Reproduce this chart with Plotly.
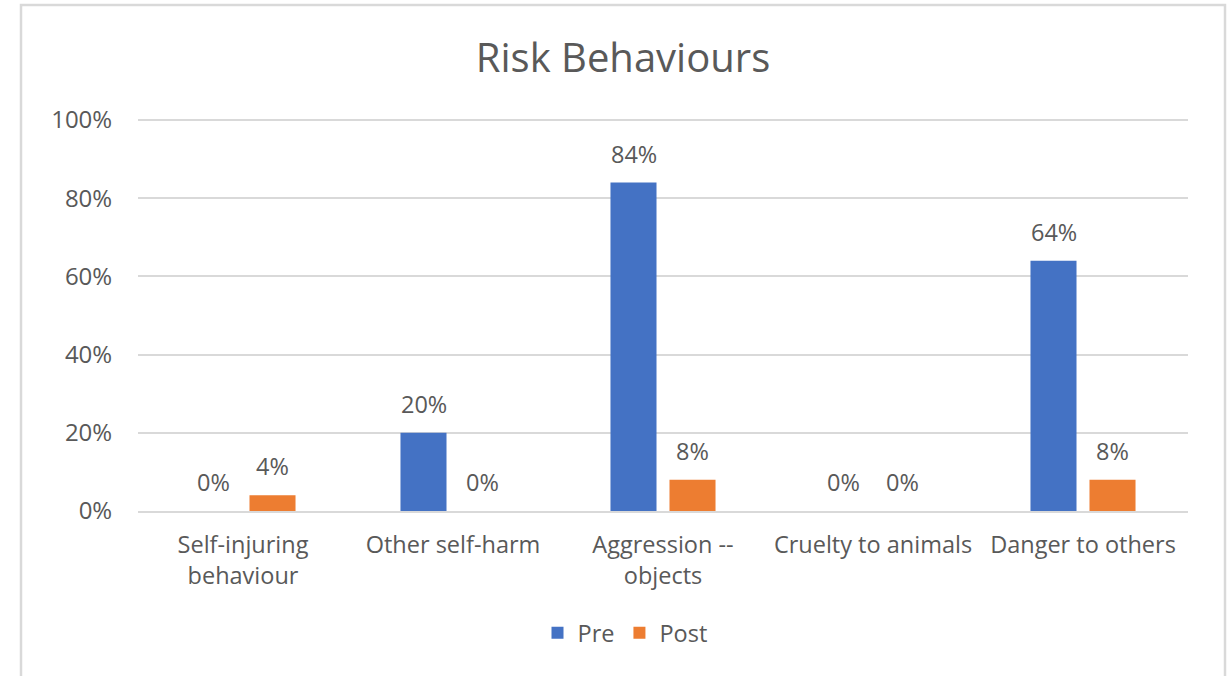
import plotly.graph_objects as go

categories = ["Self-injuring<br>behaviour", "Other self-harm", "Aggression --<br>objects",
              "Cruelty to animals", "Danger to others"]
pre = [0.00, 0.20, 0.84, 0.00, 0.64]
post = [0.04, 0.00, 0.08, 0.00, 0.08]
series_names = ["Pre", "Post"]
colors = ["#4472C4", "#ED7D31"]
tick_vals = [0, 0.2, 0.4, 0.6, 0.8, 1.0]
tick_text = ["0%", "20%", "40%", "60%", "80%", "100%"]

FONT = "'Open Sans', 'Noto Sans', sans-serif"
GRAY = "#595959"
FS = 23.5

fig = go.Figure()
for name, vals, col in zip(series_names, [pre, post], colors):
    fig.add_trace(go.Bar(x=categories, y=vals, name=name, marker_color=col,
                         marker_line_width=0))

annotations = []
for vals, shift in zip([pre, post], [-29.5, 29.5]):
    for c, v in zip(categories, vals):
        annotations.append(dict(x=c, y=v, xref="x", yref="y", text=f"{round(v*100)}%",
                                showarrow=False, xshift=shift, yanchor="bottom", yshift=11,
                                font=dict(family=FONT, size=FS, color=GRAY)))

W, H = 1230, 676
L, R, T, B = 138, 1188, 119, 511  # plot area in px
PW, PH = R - L, B - T

fig.update_layout(
    width=W, height=H,
    margin=dict(l=L, r=W - R, t=T, b=H - B),
    paper_bgcolor="white", plot_bgcolor="white",
    barmode="group", bargap=0.438, bargroupgap=0.22,
    title=dict(text="Risk Behaviours", x=623/W, xref="container", xanchor="center",
               y=1 - 58/H, yref="container", yanchor="middle",
               font=dict(family=FONT, size=40, color=GRAY)),
    font=dict(family=FONT, size=FS, color=GRAY),
    legend=dict(orientation="h", x=(625-L)/PW, xanchor="center", y=(B-633)/PH,
                yanchor="middle", font=dict(family=FONT, size=FS, color=GRAY),
                itemclick=False),
    annotations=annotations,
    showlegend=True,
)
fig.update_yaxes(range=[0, 1.0026], tickvals=tick_vals, ticktext=tick_text,
                 showgrid=True, gridcolor="#d9d9d9", gridwidth=1.5,
                 zeroline=False, showline=False, ticks="outside", ticklen=20,
                 tickcolor="white", tickfont=dict(family=FONT, size=24, color=GRAY))
fig.update_xaxes(showline=True, linecolor="#d9d9d9", linewidth=1.5,
                 ticks="outside", ticklen=12, tickcolor="white", tickangle=0,
                 tickfont=dict(family=FONT, size=FS, color=GRAY))

fig.add_shape(type="rect", xref="paper", yref="paper",
              x0=(21-L)/PW, x1=(1225-L)/PW,
              y0=(B-700)/PH, y1=(B-5)/PH,
              line=dict(color="#d9d9d9", width=2.5), fillcolor="rgba(0,0,0,0)", layer="below")

fig.write_html("out.html", config={"displayModeBar": False},
               post_script="document.body.style.margin='0';document.body.style.overflow='hidden';")
